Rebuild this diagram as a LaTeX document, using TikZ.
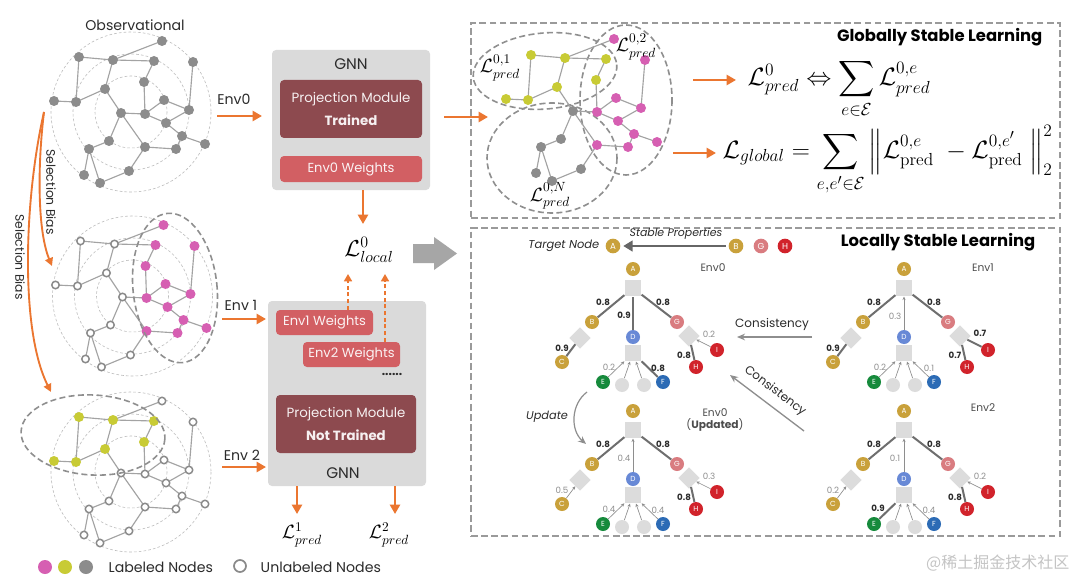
\documentclass[tikz,border=0pt]{standalone}
\usepackage{amsmath}
\usepackage[no-math]{fontspec}
\setmainfont{Poppins}
\newfontfamily\cjk{Noto Sans CJK SC}
\usetikzlibrary{arrows.meta,shapes.geometric,fit}
\definecolor{orc}{HTML}{EB7630}
\definecolor{nodeg}{HTML}{8C8C8C}
\definecolor{edgeg}{HTML}{A3A3A3}
\definecolor{magc}{HTML}{D65FB2}
\definecolor{yelc}{HTML}{C8CB35}
\definecolor{holg}{HTML}{8A8A8A}
\definecolor{ringg}{HTML}{BDBDBD}
\definecolor{ellg}{HTML}{8F8F8F}
\definecolor{boxg}{HTML}{DADADA}
\definecolor{pmc}{HTML}{8D4A4F}
\definecolor{ewc}{HTML}{D25F63}
\definecolor{panelg}{HTML}{9A9A9A}
\definecolor{goldc}{HTML}{C9A13B}
\definecolor{pinkc}{HTML}{D97C80}
\definecolor{redc}{HTML}{D1232B}
\definecolor{blued}{HTML}{6889D6}
\definecolor{greene}{HTML}{168A3C}
\definecolor{bluef}{HTML}{2C6BB5}
\definecolor{lightg}{HTML}{DCDCDC}
\definecolor{boldg}{HTML}{6E6E6E}
\definecolor{thing}{HTML}{8E8E8E}
\definecolor{txtd}{HTML}{2B2B2B}
\definecolor{wmk}{HTML}{C4C4C4}

\def\gnodes{1/162/41,2/79/57,3/113/60,4/154/61,5/193/62,6/144/82,7/105/89,8/54/101,9/76/102,10/164/100,11/189/110,12/121/113,13/145/114,14/166/123,15/182/136,16/205/144,17/109/141,18/89/149,19/145/147,20/176/149,21/84/175,22/129/171,23/100/183}
\def\gedges{3/1,2/3,3/4,2/9,3/7,4/6,6/13,5/11,8/9,9/7,7/12,12/13,13/10,10/11,13/14,14/11,14/15,15/16,15/20,20/19,12/17,12/19,17/18,18/21,18/23,19/22,22/23}

\newcommand\drawgraph[4]{%
\begin{scope}[shift={(#2,#3)}]
 \foreach \i/\x/\y in \gnodes {\coordinate (#1\i) at (\x,\y);}
 \foreach \a/\b in \gedges {\draw[gedge] (#1\a) -- (#1\b);}
 \foreach \i/\s in {#4} {\node[\s] (#1d\i) at (#1\i) {};}
\end{scope}}

\newcommand\lstree[4]{%
\begin{scope}[shift={(#2,#3)}]
 \node[tsq] (#1sq) at (0,19) {};
 \node[tsq] (#1sD) at (0,84) {};
 \node[tdia] (#1dB) at (-53,69) {};
 \node[tdia] (#1dG) at (56,67) {};
 \node[tn,fill=goldc] (#1A) at (0,0) {A};
 \node[tn,fill=goldc] (#1B) at (-41,53) {B};
 \node[tn,fill=blued] (#1D) at (0,68) {D};
 \node[tn,fill=pinkc] (#1G) at (44,53) {G};
 \node[tn,fill=goldc] (#1C) at (-71,93) {C};
 \node[tn,fill=redc] (#1I) at (84,81) {I};
 \node[tn,fill=redc] (#1H) at (63,98) {H};
 \node[tn,fill=greene] (#1E) at (-30,113) {E};
 \node[tn,fill=lightg] (#1g) at (-11,116) {};
 \node[tn,fill=lightg] (#1h) at (11,116) {};
 \node[tn,fill=bluef] (#1F) at (30,113) {F};
 \draw[tthin] (#1g) -- (#1sD);
 \draw[tthin] (#1h) -- (#1sD);
 \foreach \ch/\pa/\lx/\ly/\es/\ls/\val in {#4} {%
   \draw[\es] (#1\ch) -- (#1\pa);
   \node[\ls] (#1l\ch) at (\lx,\ly) {\val};}
\end{scope}}

\tikzset{
  gedge/.style={draw=edgeg, line width=0.85pt},
  gg/.style={circle, fill=nodeg, minimum size=7.5pt, inner sep=0pt},
  gm/.style={gg, fill=magc},
  gy/.style={gg, fill=yelc},
  gh/.style={circle, draw=holg, fill=white, line width=1.1pt, minimum size=5.6pt, inner sep=0pt},
  ring/.style={draw=ringg, line width=0.45pt, dash pattern=on 2pt off 1.6pt},
  grpell/.style={draw=ellg, line width=1.2pt, dash pattern=on 4.5pt off 2.5pt},
  oarr/.style={draw=orc, line width=2pt, -{Triangle[length=7pt,width=7.5pt]}},
  odash/.style={draw=orc, line width=1.2pt, dash pattern=on 3pt off 2pt, -{Triangle[length=5.5pt,width=6pt]}},
  sbarr/.style={draw=orc, line width=1.4pt, -{Triangle[length=6pt,width=6pt]}},
  gnnbox/.style={fill=boxg, rounded corners=3pt, inner sep=0pt},
  pmbox/.style={fill=pmc, rounded corners=3pt, inner sep=0pt},
  pmtxt/.style={align=center, text=white!92!pmc, font=\fontsize{10}{17}\selectfont},
  ewbox/.style={fill=ewc, rounded corners=3pt, inner sep=0pt},
  ewtxt/.style={text=white!92!ewc, font=\fontsize{9.8}{11}\selectfont},
  panel/.style={draw=panelg, line width=1.6pt, dash pattern=on 5pt off 2.6pt, inner sep=0pt},
  txt/.style={text=txtd, font=\fontsize{10.6}{12}\selectfont},
  lab14/.style={font=\fontsize{14}{16}\selectfont},
  tn/.style={circle, minimum size=10.5pt, inner sep=0pt, text=white, font=\fontsize{5.5}{6}\selectfont},
  tsq/.style={rectangle, fill=lightg, minimum size=12.5pt, inner sep=0pt},
  tdia/.style={diamond, aspect=1, fill=lightg, minimum width=16pt, minimum height=16pt, inner sep=0pt},
  tbold/.style={draw=boldg, line width=1.5pt},
  tthin/.style={draw=thing, line width=0.5pt, -{Stealth[length=2.6pt,width=2.4pt]}},
  lbold/.style={font=\fontsize{6.5}{7}\selectfont\bfseries, text=txtd, inner sep=0pt},
  lthin/.style={font=\fontsize{6.5}{7}\selectfont, text=thing, inner sep=0pt},
  envt/.style={font=\fontsize{8}{9}\selectfont, text=black!70},
  carr/.style={draw=thing, line width=1pt, -{Stealth[length=6pt,width=5pt]}},
  ttl/.style={anchor=east, font=\fontsize{12.3}{14}\selectfont\bfseries, text=black},
  fml/.style={anchor=west, font=\fontsize{17.28}{21}\selectfont},
}

\begin{document}
\begin{tikzpicture}[x=0.75pt,y=-0.75pt]
\fill[white] (0,0) rectangle (1080,588);
\useasboundingbox (0,0) rectangle (1080,588);

% ---------- left: graphs ----------
\foreach \cx/\cy in {131/112,132.5/296,131/472} {
  \foreach \r in {80,58,36} \draw[ring] (\cx,\cy) circle[radius=\r];}

\node[txt] (obs) at (135,25) {Observational};

\drawgraph{o}{0}{0}{1/gg,2/gg,3/gg,4/gg,5/gg,6/gg,7/gg,8/gg,9/gg,10/gg,11/gg,12/gg,13/gg,14/gg,15/gg,16/gg,17/gg,18/gg,19/gg,20/gg,21/gg,22/gg,23/gg}
\drawgraph{m}{1.5}{184}{1/gm,2/gh,3/gh,4/gm,5/gm,6/gm,7/gh,8/gh,9/gh,10/gm,11/gm,12/gh,13/gm,14/gm,15/gm,16/gm,17/gh,18/gh,19/gm,20/gm,21/gh,22/gh,23/gh}
\drawgraph{b}{0}{360}{1/gh,2/gy,3/gy,4/gy,5/gh,6/gy,7/gy,8/gy,9/gy,10/gh,11/gh,12/gh,13/gh,14/gh,15/gh,16/gh,17/gh,18/gh,19/gh,20/gh,21/gh,22/gh,23/gh}

\draw[grpell, rotate around={6:(175,288)}] (175,288) ellipse[x radius=42, y radius=75];
\draw[grpell, rotate around={-3:(93,435)}] (93,435) ellipse[x radius=72, y radius=40];

% selection bias
\coordinate (sbs) at (44,112);
\coordinate (sbe1) at (52,266);
\coordinate (sbe2) at (51,392);
\draw[sbarr] (sbs) .. controls (37,170) and (38,232) .. (sbe1);
\draw[sbarr] (sbs) .. controls (24,200) and (20,330) .. (sbe2);
\node[txt, rotate=-90, font=\fontsize{9.3}{10}\selectfont] (sb1) at (51,192) {Selection Bias};
\node[txt, rotate=-90, font=\fontsize{9.3}{10}\selectfont] (sb2) at (20,257) {Selection Bias};

% env arrows
\coordinate (e0s) at (217,116); \coordinate (e0e) at (262,116);
\coordinate (e1s) at (222,319); \coordinate (e1e) at (266,319);
\coordinate (e2s) at (222,467); \coordinate (e2e) at (266,467);
\draw[oarr] (e0s) -- (e0e);
\draw[oarr] (e1s) -- (e1e);
\draw[oarr] (e2s) -- (e2e);
\node[txt] (le0) at (234,99) {Env0};
\node[txt] (le1) at (241,305) {Env 1};
\node[txt] (le2) at (242,455) {Env 2};

% legend
\node[gm, minimum size=10.5pt] (lg1) at (45,567) {};
\node[gy, minimum size=10.5pt] (lg2) at (65,567) {};
\node[gg, minimum size=10.5pt] (lg3) at (86,567) {};
\node[txt, anchor=west] (lgt1) at (104,567) {Labeled Nodes};
\node[gh, minimum size=9pt, line width=1.3pt] (lg4) at (240,566) {};
\node[txt, anchor=west] (lgt2) at (256,567) {Unlabeled Nodes};

% ---------- center: GNN boxes ----------
\node[gnnbox, fit={(272,50) (430,190)}] (gnn1) {};
\node[txt, font=\fontsize{11.5}{12}\selectfont] (gnn1t) at (351,64) {GNN};
\node[pmbox, fit={(280,80) (422,138)}] (pm1) {};
\node[pmtxt] (pm1t) at (pm1.center) {Projection Module\\\textbf{Trained}};
\node[ewbox, fit={(280,156) (422,182)}] (ew0) {};
\node[ewtxt] (ew0t) at (ew0.center) {Env0 Weights};

\node[font=\fontsize{18}{20}\selectfont] (lloc) at (369,250) {$\mathcal{L}^{0}_{local}$};
\coordinate (a1s) at (363,190); \coordinate (a1e) at (363,224);
\draw[oarr] (a1s) -- (a1e);

\fill[black!35] (413,244) -- (434,244) -- (434,237) -- (457,253.5) -- (434,270) -- (434,263) -- (413,263) -- cycle;

\node[gnnbox, fit={(268,301) (426,486)}] (gnn2) {};
\node[ewbox, fit={(276,310) (373,335)}] (ew1) {};
\node[ewtxt] (ew1t) at (ew1.center) {Env1 Weights};
\node[ewbox, fit={(303,342) (400,367)}] (ew2) {};
\node[ewtxt] (ew2t) at (ew2.center) {Env2 Weights};
\node[txt, font=\fontsize{9}{10}\selectfont\bfseries] (dots) at (392,374) {......};
\node[pmbox, fit={(276,395) (416,453)}] (pm2) {};
\node[pmtxt] (pm2t) at (pm2.center) {Projection Module\\\textbf{Not Trained}};
\node[txt, font=\fontsize{11.5}{12}\selectfont] (gnn2t) at (343,473) {GNN};

\coordinate (d1e) at (348,274); \coordinate (d2e) at (385,274);
\draw[odash] (ew1.north -| d1e) -- (d1e);
\draw[odash] (ew2.north -| d2e) -- (d2e);

\node[lab14] (lp1) at (302,535) {$\mathcal{L}^{1}_{pred}$};
\node[lab14] (lp2) at (389,535) {$\mathcal{L}^{2}_{pred}$};
\coordinate (b1e) at (297,514); \coordinate (b2e) at (395,514);
\draw[oarr] (gnn2.south -| b1e) -- (b1e);
\draw[oarr] (gnn2.south -| b2e) -- (b2e);

% ---------- top right panel ----------
\node[panel, fit={(471,23) (1060,218)}] (gpanel) {};
\node[ttl] (gtitle) at (1047,37) {Globally Stable Learning};

\coordinate (ins) at (444,117); \coordinate (ine) at (488,117);
\draw[oarr] (ins) -- (ine);

\draw[grpell, rotate around={5:(545,71)}] (545,71) ellipse[x radius=72, y radius=38];
\draw[grpell] (626,100) ellipse[x radius=46, y radius=75];
\draw[grpell] (552,158) ellipse[x radius=65, y radius=55];
\drawgraph{r}{452}{-2}{1/gm,2/gy,3/gy,4/gy,5/gm,6/gy,7/gy,8/gy,9/gy,10/gm,11/gm,12/gg,13/gm,14/gm,15/gm,16/gm,17/gg,18/gg,19/gm,20/gm,21/gg,22/gg,23/gg}
\node[lab14] (lq1) at (500,68) {$\mathcal{L}^{0,1}_{pred}$};
\node[lab14] (lq2) at (636,47) {$\mathcal{L}^{0,2}_{pred}$};
\node[lab14] (lqN) at (550,196) {$\mathcal{L}^{0,N}_{pred}$};

\coordinate (f1s) at (693,80); \coordinate (f1e) at (736,80);
\coordinate (f2s) at (673,153); \coordinate (f2e) at (716,153);
\draw[oarr] (f1s) -- (f1e);
\draw[oarr] (f2s) -- (f2e);
\node[fml] (form1) at (743,89) {\scalebox{1.09}{$\displaystyle \mathcal{L}^{0}_{pred} \Leftrightarrow \sum_{e\in\mathcal{E}} \mathcal{L}^{0,e}_{pred}$}};
\node[fml] (form2) at (718,160) {\scalebox{1.09}{$\displaystyle \mathcal{L}_{global} = \sum_{e,e'\in\mathcal{E}} \left\| \mathcal{L}^{0,e}_{\mathrm{pred}}\ - \mathcal{L}^{0,e'}_{\mathrm{pred}}\ \right\|_2^2$}};

% ---------- bottom right panel ----------
\node[panel, fit={(471,228) (1060,536)}] (lpanel) {};
\node[ttl] (ltitle) at (1040,242) {Locally Stable Learning};

\node[anchor=east, font=\fontsize{8.6}{9}\selectfont\itshape, text=txtd] (tgt) at (604,246) {Target Node};
\node[tn, fill=goldc, minimum size=11pt, font=\fontsize{6.5}{7}\selectfont] (tA) at (613,246) {A};
\node[tn, fill=goldc, minimum size=11pt, font=\fontsize{6.5}{7}\selectfont] (tB) at (736,246) {B};
\node[tn, fill=pinkc, minimum size=11pt, font=\fontsize{6.5}{7}\selectfont] (tG) at (761,246) {G};
\node[tn, fill=redc, minimum size=11pt, font=\fontsize{6.5}{7}\selectfont] (tH) at (785,246) {H};
\draw[draw=black!60, line width=2.2pt, -{Triangle[length=7pt,width=8pt]}, shorten <=2pt, shorten >=2pt] (tB) -- (tA);
\node[font=\fontsize{8.2}{9}\selectfont\itshape, text=txtd] (stp) at (676,234) {Stable Properties};

\lstree{ea}{633}{269}{B/sq/-30/33/tbold/lbold/0.8, D/sq/-9/46/tbold/lbold/0.9, G/sq/30/33/tbold/lbold/0.8, C/dB/-71/79/tbold/lbold/0.9, I/dG/76/65/tthin/lthin/0.2, H/dG/51/86/tbold/lbold/0.8, E/sD/-24/98/tthin/lthin/0.2, F/sD/25/99/tbold/lbold/0.8}
\lstree{eb}{904}{269}{B/sq/-30/33/tbold/lbold/0.8, D/sq/-9/47/tthin/lthin/0.3, G/sq/30/33/tbold/lbold/0.8, C/dB/-71/79/tbold/lbold/0.9, I/dG/76/64/tbold/lbold/0.7, H/dG/51/86/tbold/lbold/0.7, E/sD/-24/98/tthin/lthin/0.2, F/sD/25/99/tthin/lthin/0.1}
\lstree{ec}{633}{411}{B/sq/-30/33/tbold/lbold/0.8, D/sq/-9/47/tthin/lthin/0.4, G/sq/30/33/tbold/lbold/0.8, C/dB/-71/79/tthin/lthin/0.5, I/dG/76/65/tthin/lthin/0.3, H/dG/51/86/tbold/lbold/0.8, E/sD/-24/98/tthin/lthin/0.4, F/sD/25/99/tthin/lthin/0.4}
\lstree{ed}{904}{411}{B/sq/-30/33/tbold/lbold/0.8, D/sq/-9/47/tthin/lthin/0.1, G/sq/30/33/tbold/lbold/0.8, C/dB/-71/79/tthin/lthin/0.2, I/dG/76/65/tthin/lthin/0.2, H/dG/51/86/tbold/lbold/0.8, E/sD/-26/97/tbold/lbold/0.9, F/sD/25/99/tthin/lthin/0.4}

\node[envt] (t0) at (713,268) {Env0};
\node[envt] (t1) at (983,268) {Env1};
\node[envt, align=center] (t2) at (715,420) {Env0\\(\textbf{Updated})};
\node[envt] (t3) at (983,408) {Env2};

\coordinate (c1s) at (812,337); \coordinate (c1e) at (737,337);
\draw[carr] (c1s) -- (c1e);
\node[font=\fontsize{9}{10}\selectfont, text=txtd] (c1t) at (772,324) {Consistency};
\coordinate (c2s) at (804,431); \coordinate (c2e) at (730,375);
\draw[carr] (c2s) -- (c2e);
\node[font=\fontsize{9}{10}\selectfont, text=txtd, rotate=-37] (c2t) at (775,391) {Consistency};

\coordinate (us) at (587,392); \coordinate (ue) at (586,444);
\draw[carr, line width=0.9pt] (us) .. controls (571,404) and (570,430) .. (ue);
\node[font=\fontsize{8.5}{9}\selectfont\itshape, text=txtd] (upd) at (547,417) {Update};

% watermark
\node[anchor=east, text=wmk, font=\cjk\fontsize{12}{14}\selectfont] (wm) at (1074,563) {@稀土掘金技术社区};
\end{tikzpicture}
\end{document}
